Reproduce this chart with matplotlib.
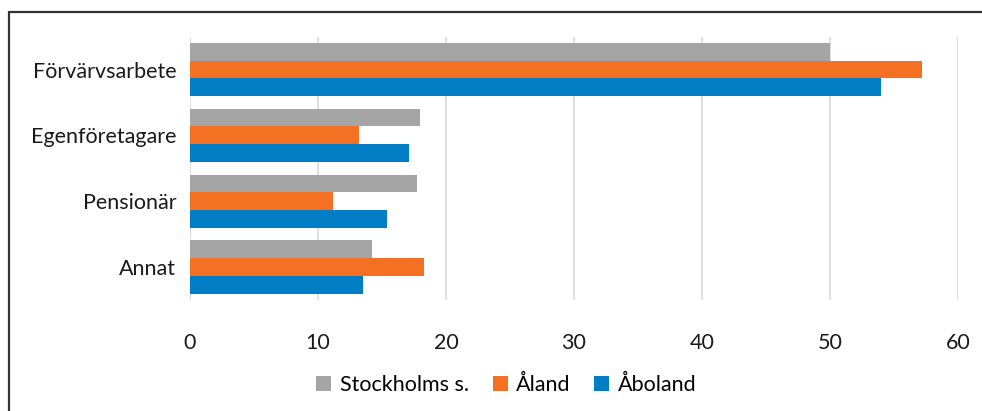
import numpy as np
import matplotlib.pyplot as plt
from matplotlib.patches import Rectangle

plt.rcParams['font.family'] = ['Lato', 'DejaVu Sans']

categories = ["Förvärvsarbete", "Egenföretagare", "Pensionär", "Annat"]
series = ["Stockholms s.", "Åland", "Åboland"]
stockholm = [50.0, 18.0, 17.7, 14.2]
aland = [57.2, 13.2, 11.2, 18.3]
aboland = [54.0, 17.1, 15.4, 13.5]
colors = ['#a5a5a5', '#f47023', '#007dc5']

fig = plt.figure(figsize=(9.82, 4.11), dpi=100)
ax = fig.add_axes([0.1935, 0.27, 0.782, 0.641])

y = np.arange(len(categories))
h = 0.27
for i, (vals, name, c) in enumerate(zip([stockholm, aland, aboland], series, colors)):
    ax.barh(y + (i - 1) * h, vals, height=h, color=c, label=name, zorder=3)

ax.set_xlim(0, 60)
ax.set_ylim(3.5, -0.5)
ax.set_xticks(range(0, 61, 10))
ax.set_yticks(y)
ax.set_yticklabels(categories)
ax.grid(axis='x', color='#d9d9d9', linewidth=1.2, zorder=0)
for s in ax.spines.values():
    s.set_visible(False)
ax.tick_params(axis='both', length=0, labelsize=15.5, colors='#1a1a1a')
ax.tick_params(axis='x', pad=24)
ax.tick_params(axis='y', pad=10)

ax.legend(loc='upper center', bbox_to_anchor=(0.412, -0.21), ncol=3, frameon=False,
          fontsize=15.5, handlelength=0.7, handleheight=0.7, handletextpad=0.4,
          columnspacing=1.1)

fig.patches.append(Rectangle((9 / 982, -0.1), 1.2, (411 - 12) / 411 + 0.1,
                             transform=fig.transFigure, fill=False,
                             edgecolor='#333333', linewidth=1.6))

fig.savefig('out.png', dpi=100)
